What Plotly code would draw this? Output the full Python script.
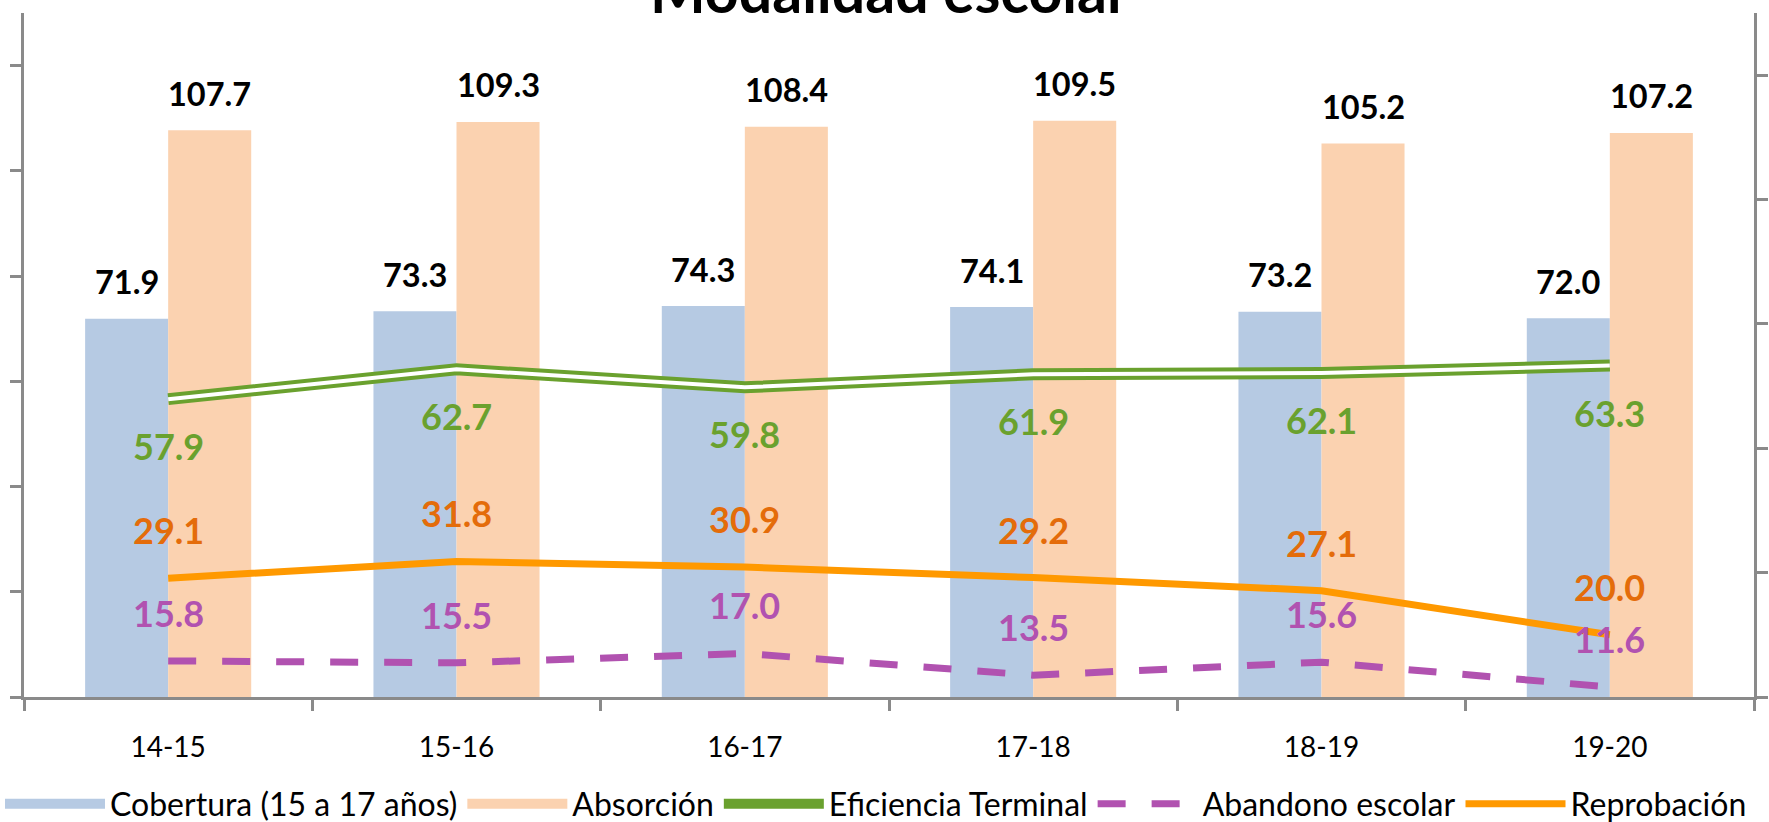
import plotly.graph_objects as go

# ---------------- data ----------------
categories = ["14-15", "15-16", "16-17", "17-18", "18-19", "19-20"]
cobertura = [71.9, 73.3, 74.3, 74.1, 73.2, 72.0]
absorcion = [107.7, 109.3, 108.4, 109.5, 105.2, 107.2]
eficiencia = [57.9, 62.7, 59.8, 61.9, 62.1, 63.3]
abandono = [15.8, 15.5, 17.0, 13.5, 15.6, 11.6]
reprobacion = [29.1, 31.8, 30.9, 29.2, 27.1, 20.0]

left_range = [0, 130]
left_ticks = [0, 20, 40, 60, 80, 100, 120]
right_range = [10, 120]
right_ticks = [10, 30, 50, 70, 90, 110]

title_text = "Modalidad escolar"
series_names = ["Cobertura (15 a 17 años)", "Absorción", "Eficiencia Terminal",
                "Abandono escolar", "Reprobación"]

# ---------------- style ----------------
W, H = 1769, 822
M_L, M_R, M_T, M_B = 24, 15, 13, 125
FONT = "Lato"
AXIS_COLOR = "#8a8a8a"
BLUE = "#B6CAE3"
ORANGE = "#FBD2B0"
GREEN = "#6AA12E"
PURPLE = "#B152B0"
ORANGE_LINE = "#FF9900"
ORANGE_LABEL = "#E46C0A"
BARGAP = 0.424
BAR_LABEL_SIZE = 32.5
LINE_LABEL_SIZE = 36

plot_w = W - M_L - M_R
plot_h = H - M_T - M_B
cat_w = plot_w / len(categories)
half_bar = (1 - BARGAP) / 4 * cat_w  # px offset of each bar centre from category centre

fig = go.Figure()

# bars (legend shown through wide swatch proxies below)
fig.add_trace(go.Bar(name=series_names[0], x=categories, y=cobertura, legendgroup="cob",
                     showlegend=False, marker=dict(color=BLUE, line=dict(width=0)),
                     yaxis="y", hoverinfo="x+y"))
fig.add_trace(go.Bar(name=series_names[1], x=categories, y=absorcion, legendgroup="abs",
                     showlegend=False, marker=dict(color=ORANGE, line=dict(width=0)),
                     yaxis="y", hoverinfo="x+y"))
# legend swatches for the bar series (no data)
fig.add_trace(go.Scatter(name=series_names[0], x=[None], y=[None], legendgroup="cob",
                         mode="lines", line=dict(color=BLUE, width=20), hoverinfo="skip"))
fig.add_trace(go.Scatter(name=series_names[1], x=[None], y=[None], legendgroup="abs",
                         mode="lines", line=dict(color=ORANGE, width=20), hoverinfo="skip"))
# lines
fig.add_trace(go.Scatter(name=series_names[2], x=categories, y=eficiencia, yaxis="y2",
                         legendgroup="et", mode="lines", line=dict(color=GREEN, width=12)))
fig.add_trace(go.Scatter(name=series_names[2], x=categories, y=eficiencia, yaxis="y2",
                         legendgroup="et", mode="lines", line=dict(color="white", width=4),
                         showlegend=False, hoverinfo="skip"))
fig.add_trace(go.Scatter(name=series_names[3], x=categories, y=abandono, yaxis="y2",
                         mode="lines", line=dict(color=PURPLE, width=7, dash="28px,26px")))
fig.add_trace(go.Scatter(name=series_names[4], x=categories, y=reprobacion, yaxis="y2",
                         mode="lines", line=dict(color=ORANGE_LINE, width=7)))

annotations = []
bar_font = dict(family=FONT, size=BAR_LABEL_SIZE)
line_font = dict(family=FONT, size=LINE_LABEL_SIZE)
for c, v in zip(categories, cobertura):
    annotations.append(dict(x=c, y=v, xref="x", yref="y", text=f"<b>{v:.1f}</b>",
                            showarrow=False, xshift=-half_bar, yshift=37, yanchor="middle",
                            font=dict(bar_font, color="black")))
for c, v in zip(categories, absorcion):
    annotations.append(dict(x=c, y=v, xref="x", yref="y", text=f"<b>{v:.1f}</b>",
                            showarrow=False, xshift=half_bar, yshift=37, yanchor="middle",
                            font=dict(bar_font, color="black")))
for c, v in zip(categories, eficiencia):
    annotations.append(dict(x=c, y=v, xref="x", yref="y2", text=f"<b>{v:.1f}</b>",
                            showarrow=False, yshift=-47, yanchor="middle",
                            font=dict(line_font, color=GREEN)))
for c, v in zip(categories, reprobacion):
    annotations.append(dict(x=c, y=v, xref="x", yref="y2", text=f"<b>{v:.1f}</b>",
                            showarrow=False, yshift=48, yanchor="middle",
                            font=dict(line_font, color=ORANGE_LABEL)))
for c, v in zip(categories, abandono):
    annotations.append(dict(x=c, y=v, xref="x", yref="y2", text=f"<b>{v:.1f}</b>",
                            showarrow=False, yshift=48, yanchor="middle",
                            font=dict(line_font, color=PURPLE)))
annotations.append(dict(x=0.5, y=1, xref="paper", yref="paper", text=f"<b>{title_text}</b>",
                        showarrow=False, yanchor="bottom", yshift=-15, xshift=0,
                        font=dict(family=FONT, size=59, color="black")))

tick_common = dict(tickcolor=AXIS_COLOR, tickwidth=2.5, ticklen=11)
boundaries = [i - 0.5 for i in range(len(categories) + 1)]

LEGEND_LEFT_PX = 0      # legend box left edge on the page
LEGEND_MID_PX = 804     # legend row centre on the page
legend_x = (LEGEND_LEFT_PX - M_L) / plot_w
legend_y = (H - M_B - LEGEND_MID_PX) / plot_h

fig.update_layout(
    width=W, height=H,
    margin=dict(l=M_L, r=M_R, t=M_T, b=M_B, pad=0, autoexpand=False),
    paper_bgcolor="white", plot_bgcolor="white",
    font=dict(family=FONT, color="black"),
    barmode="group", bargap=BARGAP, bargroupgap=0,
    showlegend=True,
    legend=dict(orientation="h", x=legend_x, y=legend_y,
                xanchor="left", yanchor="middle", font=dict(family=FONT, size=32),
                itemwidth=100, traceorder="normal", bgcolor="rgba(0,0,0,0)",
                borderwidth=0),
    xaxis=dict(type="category", categoryorder="array", categoryarray=categories,
               range=[-0.5, len(categories) - 0.5], showgrid=False, zeroline=False,
               showline=True, linecolor=AXIS_COLOR, linewidth=2.5,
               ticks="outside", tickson="boundaries", tickfont=dict(family=FONT, size=28),
               ticklabelstandoff=24, **tick_common),
    xaxis2=dict(overlaying="x", anchor="y", side="bottom", type="linear",
                range=[-0.5, len(categories) - 0.5], tickvals=boundaries,
                ticks="inside", showticklabels=False, showgrid=False, zeroline=False,
                showline=False, **tick_common),
    yaxis=dict(range=left_range, tickvals=left_ticks, ticks="outside", showticklabels=False,
               showgrid=False, zeroline=False, showline=True, linecolor=AXIS_COLOR,
               linewidth=2.5, **tick_common),
    yaxis2=dict(overlaying="y", side="right", anchor="x", range=right_range,
                tickvals=right_ticks, ticks="outside", showticklabels=False,
                showgrid=False, zeroline=False, showline=True, linecolor=AXIS_COLOR,
                linewidth=2.5, **tick_common),
    yaxis3=dict(overlaying="y", side="left", anchor="x", range=left_range,
                tickvals=left_ticks, ticks="inside", showticklabels=False,
                showgrid=False, zeroline=False, showline=False, **tick_common),
    yaxis4=dict(overlaying="y", side="right", anchor="x", range=right_range,
                tickvals=right_ticks, ticks="inside", showticklabels=False,
                showgrid=False, zeroline=False, showline=False, **tick_common),
    annotations=annotations,
)

fig.write_html("out.html", config={"displayModeBar": False},
               post_script="document.body.style.margin='0';document.body.style.overflow='hidden';")
